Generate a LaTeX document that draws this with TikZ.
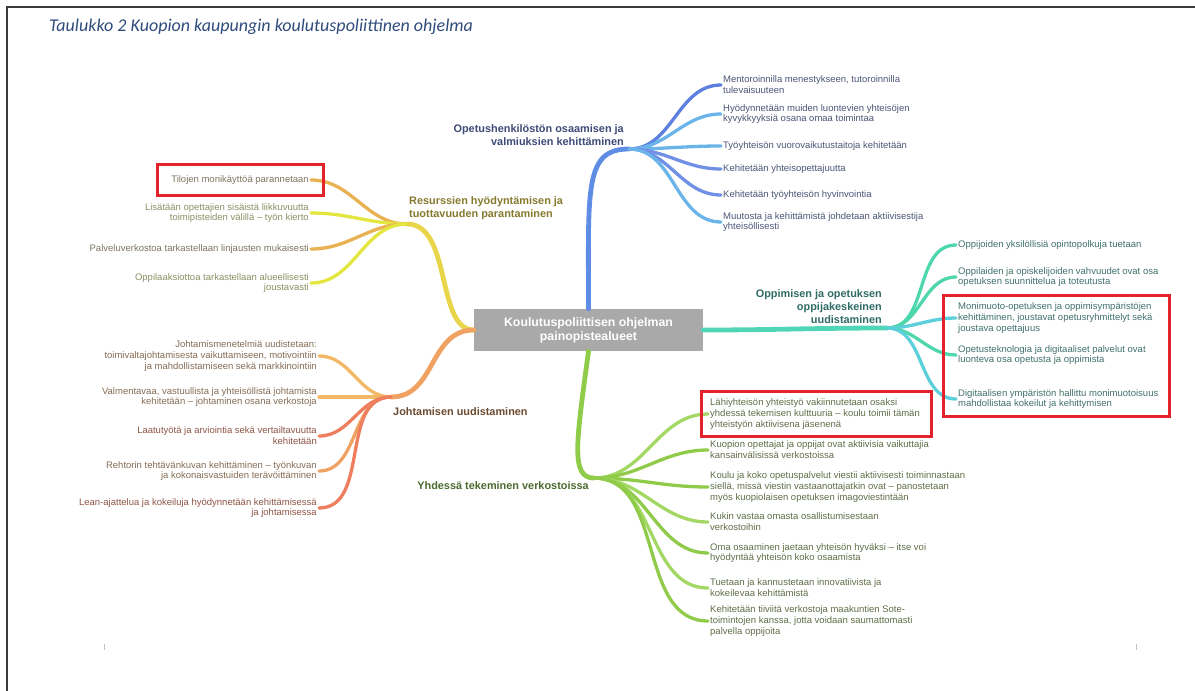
\documentclass[tikz,border=0pt]{standalone}
\usepackage{fontspec}
\setmainfont{Liberation Sans}
\newfontfamily\titlefont{Carlito}
\usepackage{tikz}
\definecolor{TitleBlue}{HTML}{2F4B7C}
\definecolor{FrameGray}{HTML}{3C3C3C}
\definecolor{CoreGray}{HTML}{A9A9A9}
\definecolor{BoxRed}{HTML}{E3222B}
\definecolor{BlueMain}{HTML}{5F8CE4}
\definecolor{BlueDeep}{HTML}{5B80E0}
\definecolor{BlueSky}{HTML}{6BB4EA}
\definecolor{BlueMid}{HTML}{7090E6}
\definecolor{BlueHead}{HTML}{3E4A78}
\definecolor{BlueText}{HTML}{4C5676}
\definecolor{TealMain}{HTML}{50D6B6}
\definecolor{TealMint}{HTML}{4ED6AC}
\definecolor{TealCyan}{HTML}{5CCFDA}
\definecolor{TealHead}{HTML}{2F6B64}
\definecolor{TealText}{HTML}{40706C}
\definecolor{GreenMain}{HTML}{8ECC4A}
\definecolor{GreenLeaf}{HTML}{8FCB48}
\definecolor{GreenLight}{HTML}{A4D865}
\definecolor{GreenHead}{HTML}{4B6A2E}
\definecolor{GreenText}{HTML}{5F6E48}
\definecolor{YellowMain}{HTML}{E8D54A}
\definecolor{YellowAmber}{HTML}{E8B252}
\definecolor{YellowLime}{HTML}{E4E640}
\definecolor{YellowHead}{HTML}{86792E}
\definecolor{YellowText}{HTML}{7D7560}
\definecolor{LimeText}{HTML}{8C9064}
\definecolor{OrangeMain}{HTML}{F0A262}
\definecolor{OrangeLight}{HTML}{F2B866}
\definecolor{OrangeSalmon}{HTML}{EE7E5E}
\definecolor{OrangeHead}{HTML}{6B4A30}
\definecolor{OrangeText}{HTML}{856C55}
\definecolor{OrangeRed}{HTML}{8E5546}
\usetikzlibrary{positioning,fit}

\begin{document}
\begin{tikzpicture}[x=1pt, y=-1pt,
  leaf/.style={font=\fontsize{9.5}{10.9}\selectfont, inner sep=2pt},
  leafright/.style={leaf, anchor=west, align=left},
  leafleft/.style={leaf, anchor=east, align=right},
  headlabel/.style={font=\fontsize{10.9}{13.2}\selectfont\bfseries, inner sep=1pt},
  bough/.style={line width=4.8pt, line cap=round},
  twig/.style={line width=3.3pt, line cap=round},
  redbox/.style={draw=BoxRed, line width=3pt}]

 \useasboundingbox (0,0) rectangle (1195,691);
 \draw[FrameGray, line width=1.3pt] (7,691) -- (7,7) -- (1195,7);
 \fill[black!25] (103.5,644) rectangle (105,650);
 \fill[black!25] (1135.5,644) rectangle (1137,650);

 \node[anchor=base west, inner sep=0pt, text=TitleBlue, font=\titlefont\itshape\fontsize{18}{21}\selectfont] (title) at (49,31) {Taulukko 2 Kuopion kaupungin koulutuspoliittinen ohjelma};

 \node[fill=CoreGray, text=white, minimum width=229pt, minimum height=42pt, align=center, font=\fontsize{12.3}{14}\selectfont\bfseries] (core) at (588.5,330) {Koulutuspoliittisen ohjelman\\painopistealueet};

 % hubs where the leaves fan out
 \coordinate (hubT) at (629,149);
 \coordinate (hubR) at (887,328);
 \coordinate (hubB) at (594,478);
 \coordinate (hubY) at (407,224);
 \coordinate (hubO) at (391,397);

 % staff
 {\color{BlueText}
 \node[leafright] (leafT1) at (721,85) {Mentoroinnilla menestykseen, tutoroinnilla\\tulevaisuuteen};
 \node[leafright] (leafT2) at (721,114) {Hyödynnetään muiden luontevien yhteisöjen\\kyvykkyyksiä osana omaa toimintaa};
 \node[leafright] (leafT3) at (721,146) {Työyhteisön vuorovaikutustaitoja kehitetään};
 \node[leafright] (leafT4) at (721,169) {Kehitetään yhteisopettajuutta};
 \node[leafright] (leafT5) at (721,195) {Kehitetään työyhteisön hyvinvointia};
 \node[leafright] (leafT6) at (721,222) {Muutosta ja kehittämistä johdetaan aktiivisestija\\yhteisöllisesti};
 \node[headlabel, align=right, text=BlueHead, above left=2pt and 4pt of hubT] (headT) {Opetushenkilöstön osaamisen ja\\valmiuksien kehittäminen};
 \draw[bough, BlueMain] (core.north) .. controls +(0,-120) and +(-45,0) .. (hubT);
 \foreach \n/\c in {1/BlueDeep, 2/BlueSky, 3/BlueSky, 4/BlueMid, 5/BlueMid, 6/BlueSky}
   \draw[twig, \c] (hubT) to[out=0, in=180] (leafT\n.west);
 }

 % learning
 {\color{TealText}
 \node[leafright] (leafR1) at (956,245) {Oppijoiden yksilöllisiä opintopolkuja tuetaan};
 \node[leafright] (leafR2) at (956,277) {Oppilaiden ja opiskelijoiden vahvuudet ovat osa\\opetuksen suunnittelua ja toteutusta};
 \node[leafright] (leafR3) at (956,318) {Monimuoto-opetuksen ja oppimisympäristöjen\\kehittäminen, joustavat opetusryhmittelyt sekä\\joustava opettajuus};
 \node[leafright] (leafR4) at (956,355) {Opetusteknologia ja digitaaliset palvelut ovat\\luonteva osa opetusta ja oppimista};
 \node[leafright] (leafR5) at (956,399) {Digitaalisen ympäristön hallittu monimuotoisuus\\mahdollistaa kokeilut ja kehittymisen};
 \node[headlabel, align=right, text=TealHead, above left=3pt and 4pt of hubR] (headR) {Oppimisen ja opetuksen\\oppijakeskeinen\\uudistaminen};
 \draw[bough, TealMain] (core.east) to[out=0, in=180] (hubR);
 \foreach \n/\c in {1/TealMint, 2/TealMint, 3/TealCyan, 4/TealMint, 5/TealCyan}
   \draw[twig, \c] (hubR) to[out=0, in=180] (leafR\n.west);
 }

 % networks
 {\color{GreenText}
 \node[leafright] (leafB1) at (708,414) {Lähiyhteisön yhteistyö vakiinnutetaan osaksi\\yhdessä tekemisen kulttuuria – koulu toimii tämän\\yhteistyön aktiivisena jäsenenä};
 \node[leafright] (leafB2) at (708,450) {Kuopion opettajat ja oppijat ovat aktiivisia vaikuttajia\\kansainvälisissä verkostoissa};
 \node[leafright] (leafB3) at (708,487) {Koulu ja koko opetuspalvelut viestii aktiivisesti toiminnastaan\\siellä, missä viestin vastaanottajatkin ovat – panostetaan\\myös kuopiolaisen opetuksen imagoviestintään};
 \node[leafright] (leafB4) at (708,522) {Kukin vastaa omasta osallistumisestaan\\verkostoihin};
 \node[leafright] (leafB5) at (708,553) {Oma osaaminen jaetaan yhteisön hyväksi – itse voi\\hyödyntää yhteisön koko osaamista};
 \node[leafright] (leafB6) at (708,588) {Tuetaan ja kannustetaan innovatiivista ja\\kokeilevaa kehittämistä};
 \node[leafright] (leafB7) at (708,621) {Kehitetään tiiviitä verkostoja maakuntien Sote-\\toimintojen kanssa, jotta voidaan saumattomasti\\palvella oppijoita};
 \node[headlabel, text=GreenHead, below left=2pt and 4pt of hubB] (headB) {Yhdessä tekeminen verkostoissa};
 \draw[bough, GreenMain] (core.south) .. controls +(-12,90) and +(-24,0) .. (hubB);
 \foreach \n/\c in {1/GreenLight, 2/GreenLeaf, 3/GreenLeaf, 4/GreenLight, 5/GreenLeaf, 6/GreenLight, 7/GreenLeaf}
   \draw[twig, \c] (hubB) to[out=0, in=180] (leafB\n.west);
 }

 % resources
 {\color{YellowText}
 \node[leafleft] (leafY1) at (311,180) {Tilojen monikäyttöä parannetaan};
 \node[leafleft, text=LimeText] (leafY2) at (311,213) {Lisätään opettajien sisäistä liikkuvuutta\\toimipisteiden välillä – työn kierto};
 \node[leafleft] (leafY3) at (311,249) {Palveluverkostoa tarkastellaan linjausten mukaisesti};
 \node[leafleft, text=LimeText] (leafY4) at (311,283) {Oppilaaksiottoa tarkastellaan alueellisesti\\joustavasti};
 \node[headlabel, align=left, text=YellowHead, above right=3pt and 1pt of hubY] (headY) {Resurssien hyödyntämisen ja\\tuottavuuden parantaminen};
 \draw[bough, YellowMain] (core.west) .. controls +(-38,0) and +(45,0) .. (hubY);
 \foreach \n/\c in {1/YellowAmber, 2/YellowLime, 3/YellowAmber, 4/YellowLime}
   \draw[twig, \c] (hubY) to[out=180, in=0] (leafY\n.east);
 }

 % leadership
 {\color{OrangeText}
 \node[leafleft] (leafO1) at (319,356) {Johtamismenetelmiä uudistetaan:\\toimivaltajohtamisesta vaikuttamiseen, motivointiin\\ja mahdollistamiseen sekä markkinointiin};
 \node[leafleft] (leafO2) at (319,397) {Valmentavaa, vastuullista ja yhteisöllistä johtamista\\kehitetään – johtaminen osana verkostoja};
 \node[leafleft, text=OrangeRed] (leafO3) at (319,436) {Laatutyötä ja arviointia sekä vertailtavuutta\\kehitetään};
 \node[leafleft] (leafO4) at (319,471) {Rehtorin tehtävänkuvan kehittäminen – työnkuvan\\ja kokonaisvastuiden terävöittäminen};
 \node[leafleft, text=OrangeRed] (leafO5) at (319,508) {Lean-ajattelua ja kokeiluja hyödynnetään kehittämisessä\\ja johtamisessa};
 \node[headlabel, text=OrangeHead, below right=9pt and 1pt of hubO] (headO) {Johtamisen uudistaminen};
 \draw[bough, OrangeMain] (core.west) .. controls +(-45,0) and +(45,0) .. (hubO);
 \foreach \n/\c in {1/OrangeLight, 2/OrangeLight, 3/OrangeSalmon, 4/OrangeMain, 5/OrangeSalmon}
   \draw[twig, \c] (hubO) to[out=180, in=0] (leafO\n.east);
 }

 % highlights
 \node[redbox, fit=(leafY1), inner xsep=12pt, inner ysep=9pt] (markY) {};
 \node[redbox, fit=(leafR3)(leafR5), inner xsep=11pt, inner ysep=5pt, xshift=-2pt] (markR) {};
 \node[redbox, fit=(leafB1), inner xsep=8pt, inner ysep=4.5pt, xshift=1pt] (markB) {};

\end{tikzpicture}
\end{document}
